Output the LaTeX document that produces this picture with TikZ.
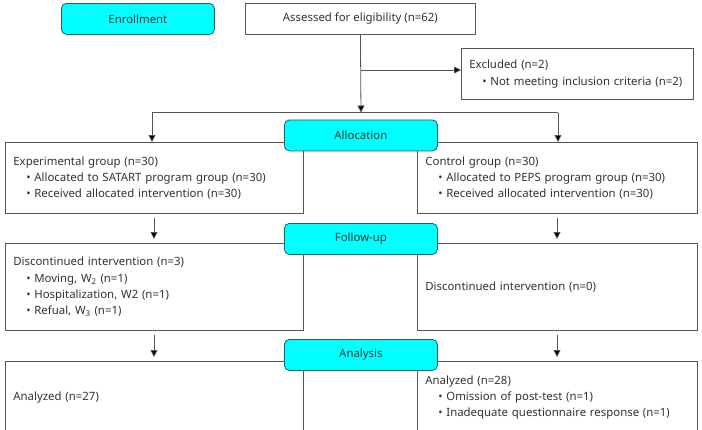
\documentclass[tikz,border=0pt]{standalone}
\usepackage{fontspec}
\setmainfont{Noto Sans}
\usetikzlibrary{arrows.meta}
\definecolor{stagefill}{HTML}{00FFFF}
\definecolor{stagedraw}{HTML}{1F6068}
\definecolor{linegray}{HTML}{555555}
\definecolor{txt}{HTML}{333333}
\newcommand\bul{\hspace*{13pt}\makebox[8pt][l]{•}}
\begin{document}
\begin{tikzpicture}[x=1pt,y=-1pt,
  every node/.style={font=\fontsize{11.4}{16.3}\selectfont, text=txt},
  stagebox/.style={draw=stagedraw, fill=stagefill, rounded corners=5pt, line width=0.8pt,
     minimum width=153pt, minimum height=31pt, anchor=north west, inner sep=0pt},
  plainbox/.style={draw=linegray, fill=white, line width=0.8pt, anchor=north west, inner sep=0pt},
  infobox/.style={draw=linegray, fill=white, line width=0.8pt, anchor=north west,
     inner xsep=8pt, inner ysep=0pt, align=left},
  arr/.style={draw=linegray, line width=0.8pt, -{Triangle[length=7pt,width=7pt,fill=black]}},
  ln/.style={draw=linegray, line width=0.8pt}]
\path[use as bounding box] (0,0) rectangle (702,429);
\clip (0,0) rectangle (702,429);

\node[stagebox] (enroll) at (61,3) {Enrollment};
\node[plainbox, minimum width=230pt, minimum height=31pt] (assess) at (245,3) {Assessed for eligibility (n=62)};
\node[infobox, minimum width=232pt, minimum height=51pt, text width=216pt] (excl) at (461,48)
  {Excluded (n=2)\\\mbox{\bul Not meeting inclusion criteria (n=2)}};

\node[infobox, minimum width=298pt, minimum height=71pt, text width=282pt] (exp) at (5,142)
  {Experimental group (n=30)\\\bul Allocated to SATART program group (n=30)\\\bul Received allocated intervention (n=30)};
\node[infobox, minimum width=280pt, minimum height=71pt, text width=264pt] (ctl) at (417,142)
  {Control group (n=30)\\\bul Allocated to PEPS program group (n=30)\\\bul Received allocated intervention (n=30)};

\node[infobox, minimum width=298pt, minimum height=87pt, text width=282pt] (dexp) at (5,243)
  {Discontinued intervention (n=3)\\\bul Moving, W\textsubscript{2} (n=1)\\\bul Hospitalization, W2 (n=1)\\\bul Refual, W\textsubscript{3} (n=1)};
\node[infobox, minimum width=280pt, minimum height=87pt, text width=264pt] (dctl) at (417,243)
  {Discontinued intervention (n=0)};

\node[infobox, minimum width=298pt, minimum height=72pt, text width=282pt] (aexp) at (5,361)
  {Analyzed (n=27)};
\node[infobox, minimum width=280pt, minimum height=72pt, text width=264pt] (actl) at (417,361)
  {Analyzed (n=28)\\\bul Omission of post-test (n=1)\\\bul Inadequate questionnaire response (n=1)};

\coordinate (split) at (361,70);
\coordinate (hl) at (152,112.5);
\coordinate (hr) at (558,112.5);
\coordinate (hm) at (361,112.5);
\draw[arr] (assess.south) -- (hm);
\draw[arr] (split) -- (excl.west |- split);
\draw[ln] (hl) -- (hr);
\draw[arr] (hl) -- (hl |- exp.north);
\draw[arr] (hr) -- (hr |- ctl.north);

\draw[arr, shorten <=4pt, shorten >=4pt] (exp.south -| 154,0) -- (dexp.north -| 154,0);
\draw[arr, shorten <=4pt, shorten >=4pt] (ctl.south -| 557,0) -- (dctl.north -| 557,0);
\draw[arr, shorten <=4pt, shorten >=4pt] (dexp.south -| 154,0) -- (aexp.north -| 154,0);
\draw[arr, shorten <=4pt, shorten >=4pt] (dctl.south -| 557,0) -- (actl.north -| 557,0);

\node[stagebox] (alloc) at (284,119.5) {Allocation};
\node[stagebox] (follow) at (284,223) {Follow-up};
\node[stagebox] (analysis) at (284,339) {Analysis};
\end{tikzpicture}
\end{document}
